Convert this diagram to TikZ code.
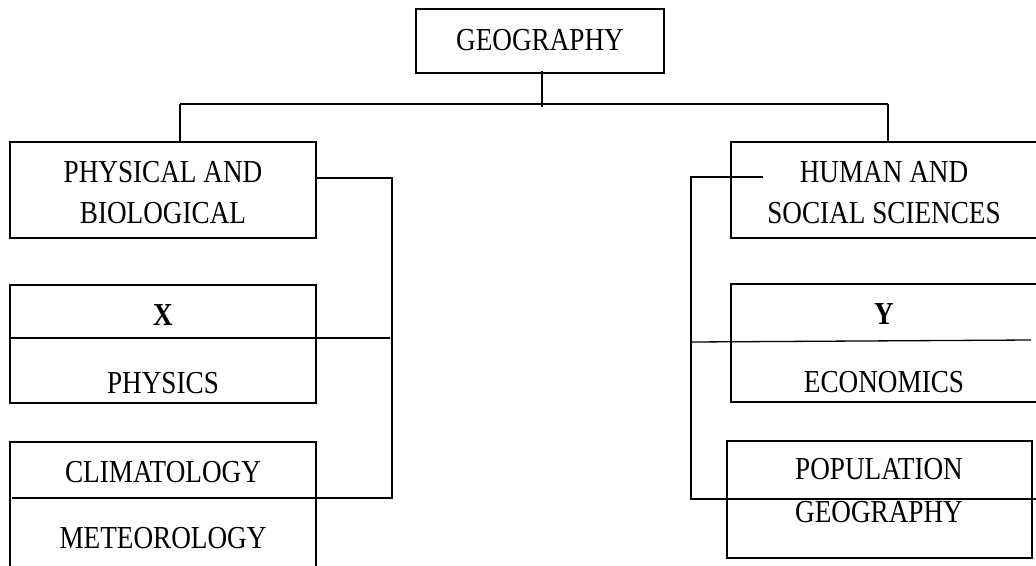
\documentclass[tikz,border=0pt]{standalone}
\usepackage{fontspec}
\setmainfont{Liberation Serif}[FakeStretch=0.85]
\begin{document}
\begin{tikzpicture}[x=1pt,y=-1pt,
  box/.style={draw=black,line width=1.3pt,rectangle,inner sep=0pt,outer sep=0pt,anchor=north west},
  lbl/.style={inner sep=0pt,anchor=base,font=\fontsize{32}{38}\selectfont},
  blbl/.style={lbl,font=\fontsize{32}{38}\selectfont\bfseries},
  conn/.style={draw=black,line width=1.6pt}]
\clip (0,0) rectangle (1036,565);
% boxes
\node[box,minimum width=248pt,minimum height=64pt] (geo) at (416,9) {};
\node[box,minimum width=306pt,minimum height=96pt] (phys) at (10,142) {};
\node[box,minimum width=306pt,minimum height=118pt] (xbox) at (10,285) {};
\node[box,minimum width=306pt,minimum height=160pt] (clim) at (10,442) {};
\node[box,minimum width=306pt,minimum height=96pt] (hum) at (731,142) {};
\node[box,minimum width=306pt,minimum height=118pt] (ybox) at (731,284) {};
\node[box,minimum width=305pt,minimum height=117pt] (pop) at (727,441) {};
% labels
\node[lbl] (geoT) at (540,50) {GEOGRAPHY};
\node[lbl] (physT1) at (163,182) {PHYSICAL AND};
\node[lbl] (physT2) at (163,223) {BIOLOGICAL};
\node[blbl] (xT) at (163,325) {X};
\node[lbl] (physicsT) at (163,393) {PHYSICS};
\node[lbl] (climT) at (163,482) {CLIMATOLOGY};
\node[lbl] (metT) at (163,548) {METEOROLOGY};
\node[lbl] (humT1) at (884,182) {HUMAN AND};
\node[lbl] (humT2) at (884,223) {SOCIAL SCIENCES};
\node[blbl] (yT) at (884,324) {Y};
\node[lbl] (ecoT) at (884,392) {ECONOMICS};
\node[lbl] (popT1) at (879,479) {POPULATION};
\node[lbl] (popT2) at (879,522) {GEOGRAPHY};
% coordinates
\coordinate (stub) at (542,107);
\coordinate (hl) at (180,104);
\coordinate (hr) at (888,104);
\coordinate (lc1) at (392,178);
\coordinate (lc2) at (392,498);
\coordinate (xdiv) at (390,338);
\coordinate (rs) at (763,177);
\coordinate (rc1) at (691,177);
\coordinate (rc2) at (691,499);
\coordinate (re) at (1036,499);
\coordinate (ydiv) at (1031,340);
% connectors
\draw[conn] (stub |- geo.south) ++(0,-2) -- (stub);
\draw[conn] (hl) -- (hr);
\draw[conn] (hl) -- (hl |- phys.north);
\draw[conn] (hr) -- (hr |- hum.north);
\draw[conn] (phys.east |- lc1) -- (lc1) -- (lc2) -- ([xshift=2pt]clim.west |- lc2);
\draw[conn,line width=1.3pt] (xbox.west |- xdiv) -- (xdiv);
\draw[conn] (rs) -- (rc1) -- (rc2) -- (re);
\draw[conn,line width=1.3pt] (rc1 |- 0,342) -- (ydiv);
\end{tikzpicture}
\end{document}
